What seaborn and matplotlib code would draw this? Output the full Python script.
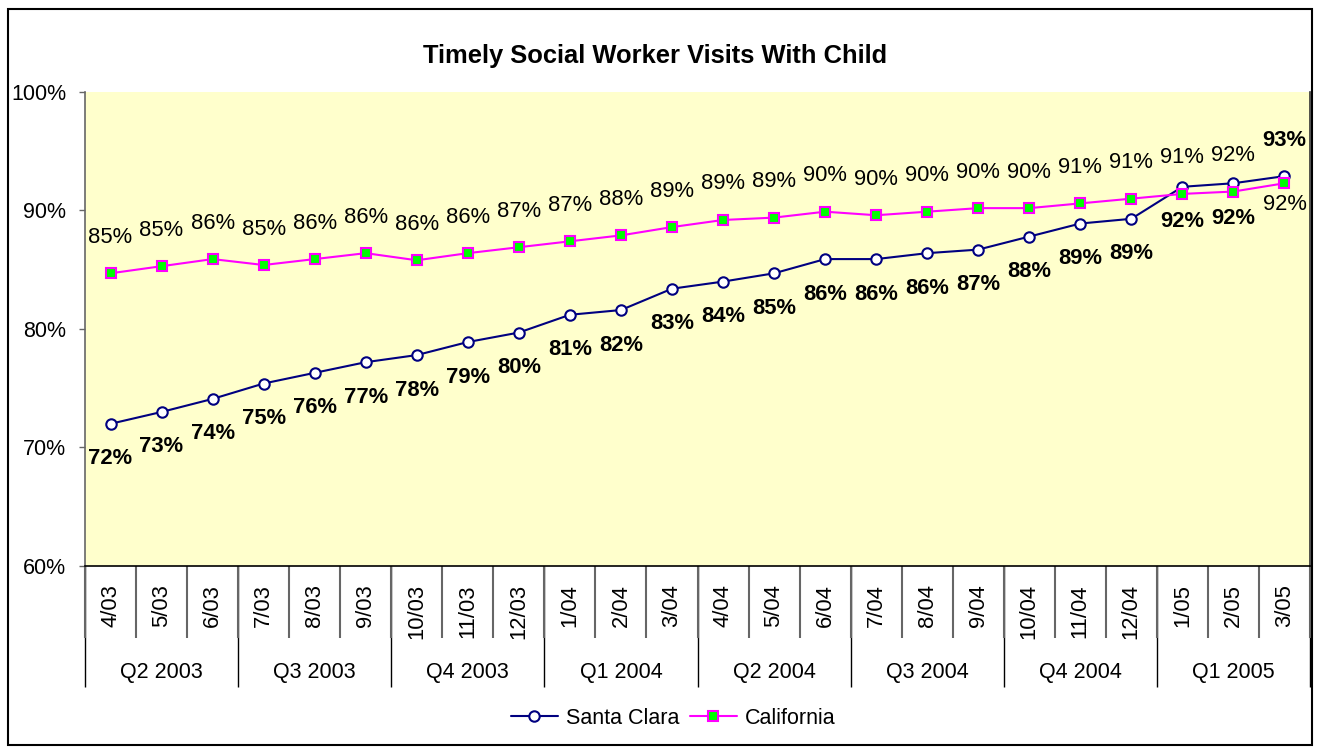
"""
Timely Social Worker Visits With Child - Santa Clara vs California.
"""

import numpy as np
import matplotlib
matplotlib.use("Agg")
import matplotlib.pyplot as plt
from matplotlib.patches import Rectangle
from matplotlib.ticker import FixedLocator, FuncFormatter
import seaborn as sns

months = ["4/03", "5/03", "6/03", "7/03", "8/03", "9/03", "10/03", "11/03",
          "12/03", "1/04", "2/04", "3/04", "4/04", "5/04", "6/04", "7/04",
          "8/04", "9/04", "10/04", "11/04", "12/04", "1/05", "2/05", "3/05"]
quarters = ["Q2 2003", "Q3 2003", "Q4 2003", "Q1 2004",
            "Q2 2004", "Q3 2004", "Q4 2004", "Q1 2005"]
santa_clara = [72.0, 73.0, 74.1, 75.4, 76.3, 77.2, 77.8, 78.9, 79.7, 81.2,
               81.6, 83.4, 84.0, 84.7, 85.9, 85.9, 86.4, 86.7, 87.8, 88.9,
               89.3, 92.0, 92.3, 92.9]
california = [84.7, 85.3, 85.9, 85.4, 85.9, 86.4, 85.8, 86.4, 86.9, 87.4,
              87.9, 88.6, 89.2, 89.4, 89.9, 89.6, 89.9, 90.2, 90.2, 90.6,
              91.0, 91.4, 91.6, 92.3]
y_ticks = [60, 70, 80, 90, 100]

W, H = 1319, 753
sns.set_theme(style="white")
plt.rcParams["font.family"] = ["Liberation Sans", "DejaVu Sans"]
plt.rcParams.update({"text.color": "black", "axes.labelcolor": "black",
                     "xtick.color": "black", "ytick.color": "black"})

fig = plt.figure(figsize=(W / 100, H / 100), dpi=100)
fig.patch.set_facecolor("white")
ax = fig.add_axes([85 / W, 1 - 566 / H, 1225 / W, (566 - 92) / H])
ax.set_facecolor("#FFFFCC")

x = np.arange(len(months))
sns.lineplot(x=x, y=santa_clara, ax=ax, color="#000080", linewidth=1.5,
             marker="o", markersize=7.5, markerfacecolor="white",
             markeredgecolor="#000080", markeredgewidth=1.5, label="Santa Clara")
sns.lineplot(x=x, y=california, ax=ax, color="#FF00FF", linewidth=1.5,
             marker="s", markersize=7.5, markerfacecolor="#00FF00",
             markeredgecolor="#FF00FF", markeredgewidth=1.5, label="California")

# data labels
last = len(months) - 1
for i, v in enumerate(santa_clara):
    dy = 36 if i == last else -35
    ax.annotate(f"{v:.0f}%", (i, v), xytext=(0, dy), textcoords="offset pixels",
                ha="center", va="center", fontsize=15.8, fontweight="bold",
                color="black")
for i, v in enumerate(california):
    dy = -21 if i == last else 36
    ax.annotate(f"{v:.0f}%", (i, v), xytext=(0, dy), textcoords="offset pixels",
                ha="center", va="center", fontsize=15.8, color="black")

ax.set_xlim(-0.5, len(months) - 0.5)
ax.set_ylim(60, 100)
ax.set_yticks(y_ticks)
ax.yaxis.set_major_formatter(FuncFormatter(lambda v, _: f"{v:.0f}%"))
ax.tick_params(axis="y", left=True, length=4.5, width=1, color="#666666",
               labelsize=15.5, labelcolor="black", pad=9)
ax.set_xlabel("")
ax.set_ylabel("")

# month labels + month dividers
ax.set_xticks(x)
ax.set_xticklabels(months, rotation=90, fontsize=15.8)
ax.xaxis.set_minor_locator(FixedLocator(np.arange(-0.5, len(months), 1)))
ax.tick_params(axis="x", which="major", bottom=True, length=0, pad=13,
               labelcolor="black")
ax.tick_params(axis="x", which="minor", bottom=True, length=52, width=1.5,
               color="#666666")

# quarter labels + quarter dividers
sec = ax.secondary_xaxis("bottom")
sec.set_xticks(np.arange(-0.5, len(months), 3))
sec.set_xticklabels([""] * (len(quarters) + 1))
sec.xaxis.set_minor_locator(FixedLocator(np.arange(1, len(months), 3)))
sec.xaxis.set_minor_formatter(FuncFormatter(lambda v, p: quarters[int(v) // 3]))
sec.tick_params(axis="x", which="major", length=87, width=1, color="black")
sec.tick_params(axis="x", which="minor", length=0, pad=69, labelsize=15.5,
                labelcolor="black")
sec.spines["bottom"].set_visible(False)

ax.spines["top"].set_visible(False)
ax.spines["left"].set_color("#666666")
ax.spines["bottom"].set_color("black")
ax.spines["right"].set_color("#333333")
for s in ["left", "bottom", "right"]:
    ax.spines[s].set_linewidth(1.2)

leg = ax.legend(loc="center", bbox_to_anchor=(673 / W, 1 - 718 / H),
                bbox_transform=fig.transFigure, ncol=2, frameon=False,
                fontsize=15.5, handlelength=2.2, handletextpad=0.35,
                columnspacing=0.5)
for t in leg.get_texts():
    t.set_color("black")

fig.text(655 / W, 1 - 56 / H, "Timely Social Worker Visits With Child",
         ha="center", va="center", fontsize=18.4, fontweight="bold",
         color="black")

fig.patches.append(Rectangle((8 / W, 1 - 745 / H), 1304 / W, 736 / H,
                             transform=fig.transFigure, fill=False,
                             edgecolor="black", linewidth=1.5))

fig.savefig("out.png", dpi=100)
